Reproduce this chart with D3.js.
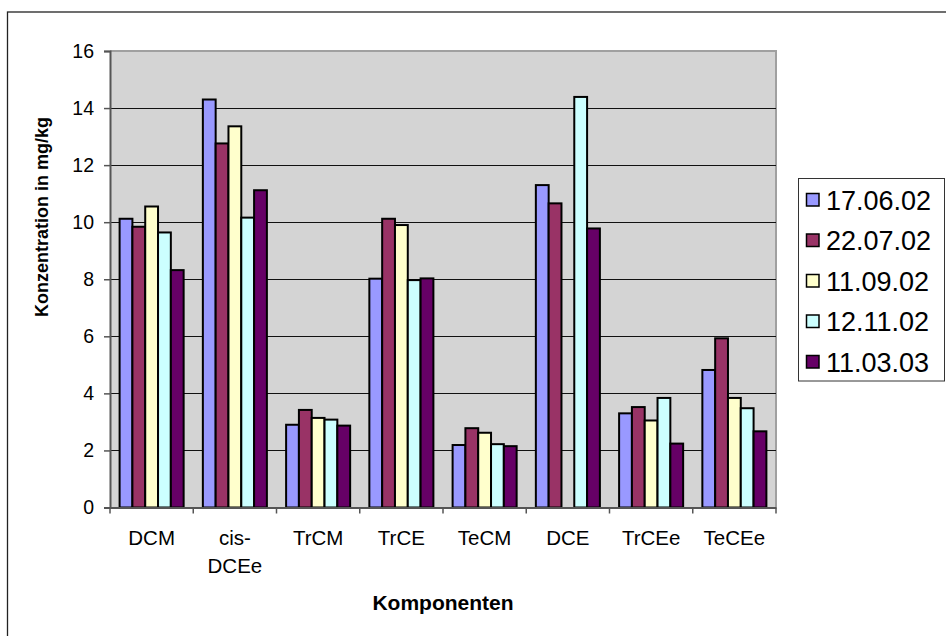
<!DOCTYPE html>
<html>
<head>
<meta charset="utf-8">
<script src="https://cdn.jsdelivr.net/npm/d3@7"></script>
<style>
  html, body { margin: 0; padding: 0; background: #fff; }
  svg text { font-family: "Liberation Sans", Arial, sans-serif; fill: #000; }
</style>
</head>
<body>
<svg id="chart" width="946" height="636"></svg>
<script>
const categories = ["DCM", "cis-DCEe", "TrCM", "TrCE", "TeCM", "DCE", "TrCEe", "TeCEe"];
const seriesNames = ["17.06.02", "22.07.02", "11.09.02", "12.11.02", "11.03.03"];
const s1706 = [10.12, 14.3, 2.9, 8.02, 2.19, 11.3, 3.3, 4.82];
const s2207 = [9.84, 12.76, 3.42, 10.12, 2.78, 10.66, 3.52, 5.93];
const s1109 = [10.55, 13.36, 3.14, 9.9, 2.62, null, 3.05, 3.84];
const s1211 = [9.64, 10.16, 3.08, 7.97, 2.22, 14.39, 3.84, 3.48];
const s1103 = [8.32, 11.12, 2.87, 8.03, 2.15, 9.78, 2.24, 2.67];
const seriesValues = [s1706, s2207, s1109, s1211, s1103];
const colors = ["#9999FF", "#993366", "#FFFFCC", "#CCFFFF", "#660066"];
const yTicks = [0, 2, 4, 6, 8, 10, 12, 14, 16];

const svg = d3.select("#chart");
const plot = { left: 110, right: 776, top: 51, bottom: 507.5 };

// outer border
svg.append("rect").attr("x", 7.5).attr("y", 12).attr("width", 960).attr("height", 660)
  .attr("fill", "none").attr("stroke", "#222").attr("stroke-width", 1.3);

const x = d3.scaleBand().domain(categories).range([plot.left, plot.right]).paddingInner(0).paddingOuter(0);
const step = x.step();
const xs = d3.scaleBand().domain(d3.range(seriesNames.length))
  .range([step * 0.75 / 6.5, step * 0.75 / 6.5 + step * 5 / 6.5]).padding(0);
const y = d3.scaleLinear().domain([0, 16]).range([plot.bottom, plot.top]);

// plot background
svg.append("rect").attr("x", plot.left).attr("y", plot.top)
  .attr("width", plot.right - plot.left).attr("height", plot.bottom - plot.top)
  .attr("fill", "#D4D4D4");
// top/right border
svg.append("path")
  .attr("d", `M${plot.left},${plot.top}H${plot.right}V${plot.bottom}`)
  .attr("fill", "none").attr("stroke", "#A0A0A0").attr("stroke-width", 2);

// gridlines
svg.append("g").selectAll("line").data(yTicks.filter(t => t > 0 && t < 16)).join("line")
  .attr("x1", plot.left).attr("x2", plot.right)
  .attr("y1", d => Math.round(y(d)) + 0.5).attr("y2", d => Math.round(y(d)) + 0.5)
  .attr("stroke", "#111").attr("stroke-width", 1);

// bars
const g = svg.append("g");
seriesValues.forEach((vals, si) => {
  g.append("g").selectAll("rect")
    .data(vals.map((v, i) => ({ v, c: categories[i] })).filter(d => d.v !== null))
    .join("rect")
    .attr("x", d => x(d.c) + xs(si))
    .attr("y", d => y(d.v))
    .attr("width", xs.bandwidth())
    .attr("height", d => y(0) - y(d.v))
    .attr("fill", colors[si])
    .attr("stroke", "#000").attr("stroke-width", 2);
});

// y axis
const yAxis = d3.axisLeft(y).tickValues(yTicks).tickSize(6).tickPadding(10).tickFormat(d3.format("d"));
const ya = svg.append("g").attr("transform", `translate(${plot.left},0)`).call(yAxis);
ya.select(".domain").attr("stroke", "#555").attr("stroke-width", 2);
ya.selectAll(".tick line").attr("stroke", "#555").attr("stroke-width", 1.5);
ya.selectAll(".tick text").attr("font-size", 19.5).attr("font-family", "Liberation Sans, Arial, sans-serif").attr("fill", "#000");

// x axis
const xAxis = d3.axisBottom(x).tickSize(0).tickFormat("");
const xa = svg.append("g").attr("transform", `translate(0,${plot.bottom})`).call(xAxis);
xa.select(".domain").attr("stroke", "#555").attr("stroke-width", 2);
xa.selectAll(".tick").remove();
// category boundary ticks
const bounds = categories.map(c => x(c)).concat([plot.right]);
xa.selectAll("line.b").data(bounds).join("line").attr("class", "b")
  .attr("x1", d => d).attr("x2", d => d).attr("y1", 0).attr("y2", 6)
  .attr("stroke", "#555").attr("stroke-width", 1.5);

// category labels
const labelLines = { "cis-DCEe": ["cis-", "DCEe"] };
categories.forEach(c => {
  const lines = labelLines[c] || [c];
  const t = svg.append("text").attr("text-anchor", "middle").attr("font-size", 20.5)
    .attr("x", x(c) + step / 2).attr("y", 545);
  lines.forEach((l, i) => t.append("tspan").attr("x", x(c) + step / 2).attr("dy", i === 0 ? 0 : 27.5).text(l));
});

// axis titles
svg.append("text").attr("text-anchor", "middle").attr("font-weight", "bold").attr("font-size", 21)
  .attr("x", (plot.left + plot.right) / 2).attr("y", 610).text("Komponenten");
svg.append("text").attr("text-anchor", "middle").attr("font-weight", "bold").attr("font-size", 18)
  .attr("transform", `translate(48,217) rotate(-90)`).text("Konzentration in mg/kg");

// legend
const leg = svg.append("g");
leg.append("rect").attr("x", 798.5).attr("y", 178.5).attr("width", 146).attr("height", 202.5)
  .attr("fill", "#fff").attr("stroke", "#333").attr("stroke-width", 1);
seriesNames.forEach((n, i) => {
  const cy = 200 + i * 40.5;
  leg.append("rect").attr("x", 806.5).attr("y", cy - 6.5).attr("width", 12.5).attr("height", 12.5)
    .attr("fill", colors[i]).attr("stroke", "#000").attr("stroke-width", 1.5);
  leg.append("text").attr("x", 826).attr("y", cy + 9.5).attr("font-size", 27).text(n);
});
</script>
</body>
</html>
